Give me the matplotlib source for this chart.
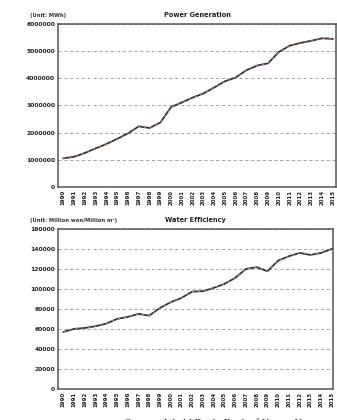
import matplotlib.pyplot as plt
import numpy as np

years = [str(y) for y in range(1990, 2016)]

powerGeneration = [1050000, 1110000, 1250000, 1420000, 1580000, 1770000, 1970000, 2230000,
                   2170000, 2370000, 2940000, 3110000, 3290000, 3440000, 3660000, 3890000,
                   4030000, 4300000, 4470000, 4550000, 4970000, 5200000, 5300000, 5380000,
                   5470000, 5450000]

waterEfficiency = [57000, 60000, 61000, 62700, 65300, 70000, 72000, 75000, 73300, 81000,
                   86700, 91000, 97300, 97700, 101000, 105000, 111000, 120000, 121700, 117700,
                   128300, 132700, 136000, 134000, 136000, 140000]

powerTicks = [0, 1000000, 2000000, 3000000, 4000000, 5000000, 6000000]
waterTicks = [0, 20000, 40000, 60000, 80000, 100000, 120000, 140000, 160000]

fig = plt.figure(figsize=(3.37, 4.2), dpi=100)
fig.patch.set_facecolor('white')

x = np.arange(len(years))


def draw_panel(rect, values, ticks, title, unit, dash_color, xmax):
    ax = fig.add_axes(rect)
    ax.plot(x, values, color='#333333', linewidth=1.3, zorder=3)
    ax.plot(x, values, color=dash_color, linewidth=0.5, linestyle=(0, (3, 6)), zorder=4)
    ax.set_xlim(-0.5, xmax)
    ax.set_ylim(ticks[0], ticks[-1])
    ax.set_yticks(ticks)
    ax.set_yticklabels([str(t) for t in ticks], fontsize=4.3, fontweight='bold', color='#222222')
    ax.set_xticks(x)
    ax.set_xticklabels(years, rotation=90, fontsize=4.0, fontweight='bold', color='#222222')
    ax.tick_params(length=0, pad=2)
    ax.yaxis.grid(True, linestyle=(0, (4, 3)), color='#999999', linewidth=0.6)
    ax.set_axisbelow(True)
    for s in ax.spines.values():
        s.set_color('#555555')
        s.set_linewidth(1.1)
    ax.set_title(title, fontsize=4.8, fontweight='bold', color='#222222', pad=5)
    ax.text(-0.1, 1.035, unit, transform=ax.transAxes, fontsize=3.8, fontweight='bold',
            color='#333333', ha='left', va='bottom')
    return ax


draw_panel([0.172, 0.555, 0.825, 0.388], powerGeneration, powerTicks,
           'Power Generation', '(Unit: MWh)', '#e8a070', 25.3)
draw_panel([0.172, 0.074, 0.816, 0.381], waterEfficiency, waterTicks,
           'Water Efficiency', '(Unit: Million won/Million m\u00b3)', '#bbbbbb', 25.1)

# source line sits at the very bottom edge, as in the original page crop
fig.text(0.37, -0.008, 'Source : World Bank, Bank of Korea, K-water', fontsize=8,
         family='Liberation Serif', ha='left', va='center', color='#222222')

fig.savefig('out.png', dpi=100)
